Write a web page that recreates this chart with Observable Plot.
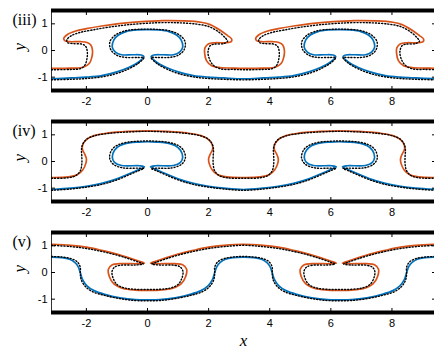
<!DOCTYPE html>
<html><head><meta charset="utf-8">
<script src="https://cdn.jsdelivr.net/npm/d3@7"></script>
<script src="https://cdn.jsdelivr.net/npm/@observablehq/plot@0.6"></script>
<style>
body{margin:0;background:#fff;overflow:hidden;}
#chart svg{display:block;}
</style></head><body><div id="chart"></div>
<script>
const panelLabels = ["(iii)", "(iv)", "(v)"];
const xTicks = [-2, 0, 2, 4, 6, 8];
const yTicks = [-1, 0, 1];
const walls = [-1.5, 1.5];
const xDomain = [-Math.PI, 3 * Math.PI];
const yDomain = [-1.5, 1.5];

const iiiUpper = [[-3.14,-0.67],[-2.5,-0.66],[-2.1,-0.63],[-1.9,-0.48],[-1.82,-0.25],[-1.8,0],[-1.85,0.2],[-1.98,0.3],[-2.2,0.33],[-2.55,0.33],[-2.7,0.36],[-2.74,0.45],[-2.62,0.6],[-2.35,0.73],[-2,0.82],[-1.5,0.92],[-1,1],[-0.3,1.07],[0.5,1.12],[1.2,1.11],[1.75,1.06],[2.05,0.97],[2.38,0.76],[2.62,0.56],[2.75,0.44],[2.74,0.33],[2.55,0.29],[2.2,0.29],[2,0.25],[1.88,0.1],[1.87,-0.1],[1.93,-0.38],[2.1,-0.57],[2.38,-0.64],[2.8,-0.66],[3.14,-0.67],
[3.78,-0.66],[4.18,-0.63],[4.38,-0.48],[4.46,-0.25],[4.48,0],[4.43,0.2],[4.3,0.3],[4.08,0.33],[3.73,0.33],[3.58,0.36],[3.54,0.45],[3.66,0.6],[3.93,0.73],[4.28,0.82],[4.78,0.92],[5.28,1],[5.98,1.07],[6.78,1.12],[7.48,1.11],[8.03,1.06],[8.33,0.97],[8.66,0.76],[8.9,0.56],[9.03,0.44],[9.02,0.33],[8.83,0.29],[8.48,0.29],[8.28,0.25],[8.16,0.1],[8.15,-0.1],[8.21,-0.38],[8.38,-0.57],[8.66,-0.64],[9.08,-0.66],[9.42,-0.67]];
const iiiUpperDotted = [[-3.14,-0.72],[-2.5,-0.71],[-2.2,-0.68],[-2.05,-0.55],[-1.98,-0.3],[-1.97,-0.05],[-2.02,0.15],[-2.15,0.24],[-2.45,0.26],[-2.62,0.3],[-2.64,0.4],[-2.5,0.55],[-2.2,0.68],[-1.8,0.77],[-1.3,0.87],[-0.6,0.97],[0.3,1.04],[1,1.04],[1.6,0.99],[2,0.9],[2.35,0.68],[2.55,0.47],[2.62,0.35],[2.5,0.26],[2.2,0.24],[2.05,0.18],[1.98,-0.05],[2.02,-0.3],[2.15,-0.55],[2.4,-0.69],[2.8,-0.71],[3.14,-0.72],
[3.78,-0.71],[4.08,-0.68],[4.23,-0.55],[4.3,-0.3],[4.31,-0.05],[4.26,0.15],[4.13,0.24],[3.83,0.26],[3.66,0.3],[3.64,0.4],[3.78,0.55],[4.08,0.68],[4.48,0.77],[4.98,0.87],[5.68,0.97],[6.58,1.04],[7.28,1.04],[7.88,0.99],[8.28,0.9],[8.63,0.68],[8.83,0.47],[8.9,0.35],[8.78,0.26],[8.48,0.24],[8.33,0.18],[8.26,-0.05],[8.3,-0.3],[8.43,-0.55],[8.68,-0.69],[9.08,-0.71],[9.42,-0.72]];
const iiiLower = [[-3.14,-1.06],[-2.5,-1.03],[-2,-1],[-1.5,-0.94],[-1,-0.8],[-0.6,-0.63],[-0.3,-0.44],[-0.12,-0.22],[-0.2,-0.17],[-0.5,-0.16],[-0.85,-0.16],[-1.05,-0.06],[-1.15,0.12],[-1.1,0.4],[-0.95,0.58],[-0.7,0.71],[-0.35,0.77],[0,0.78],[0.35,0.77],[0.7,0.71],[0.95,0.58],[1.1,0.4],[1.15,0.12],[1.05,-0.06],[0.85,-0.16],[0.5,-0.16],[0.2,-0.17],[0.12,-0.22],[0.3,-0.44],[0.6,-0.63],[1,-0.8],[1.5,-0.94],[2,-1],[2.5,-1.03],[3.14,-1.06],
[3.78,-1.03],[4.28,-1],[4.78,-0.94],[5.28,-0.8],[5.68,-0.63],[5.98,-0.44],[6.16,-0.22],[6.08,-0.17],[5.78,-0.16],[5.43,-0.16],[5.23,-0.06],[5.13,0.12],[5.18,0.4],[5.33,0.58],[5.58,0.71],[5.93,0.77],[6.28,0.78],[6.63,0.77],[6.98,0.71],[7.23,0.58],[7.38,0.4],[7.43,0.12],[7.33,-0.06],[7.13,-0.16],[6.78,-0.16],[6.48,-0.17],[6.4,-0.22],[6.58,-0.44],[6.88,-0.63],[7.28,-0.8],[7.78,-0.94],[8.28,-1],[8.78,-1.03],[9.42,-1.06]];
const iiiLowerDotted = [[-3.14,-1.1],[-2.5,-1.08],[-2,-1.05],[-1.5,-0.99],[-1,-0.86],[-0.6,-0.68],[-0.3,-0.48],[-0.12,-0.27],[-0.3,-0.26],[-0.7,-0.26],[-1,-0.18],[-1.2,0.03],[-1.23,0.33],[-1.05,0.58],[-0.72,0.74],[-0.35,0.79],[0,0.8],[0.35,0.79],[0.72,0.74],[1.05,0.58],[1.23,0.33],[1.2,0.03],[1,-0.18],[0.7,-0.26],[0.3,-0.26],[0.12,-0.27],[0.3,-0.48],[0.6,-0.68],[1,-0.86],[1.5,-0.99],[2,-1.05],[2.5,-1.08],[3.14,-1.1],
[3.78,-1.08],[4.28,-1.05],[4.78,-0.99],[5.28,-0.86],[5.68,-0.68],[5.98,-0.48],[6.16,-0.27],[5.98,-0.26],[5.58,-0.26],[5.28,-0.18],[5.08,0.03],[5.05,0.33],[5.23,0.58],[5.56,0.74],[5.93,0.79],[6.28,0.8],[6.63,0.79],[7,0.74],[7.33,0.58],[7.51,0.33],[7.48,0.03],[7.28,-0.18],[6.98,-0.26],[6.58,-0.26],[6.4,-0.27],[6.58,-0.48],[6.88,-0.68],[7.28,-0.86],[7.78,-0.99],[8.28,-1.05],[8.78,-1.08],[9.42,-1.1]];

const ivUpper = [[-3.14,-0.6],[-2.6,-0.58],[-2.3,-0.5],[-2.12,-0.32],[-2.02,-0.08],[-2,0.1],[-2.05,0.27],[-2.13,0.45],[-2.12,0.62],[-2,0.82],[-1.75,0.97],[-1.3,1.07],[-0.6,1.13],[0,1.15],[0.6,1.13],[1.3,1.07],[1.75,0.97],[2,0.82],[2.12,0.62],[2.13,0.45],[2.05,0.27],[2,0.1],[2.02,-0.08],[2.12,-0.32],[2.3,-0.5],[2.6,-0.58],[3.14,-0.6],
[3.68,-0.58],[3.98,-0.5],[4.16,-0.32],[4.26,-0.08],[4.28,0.1],[4.23,0.27],[4.15,0.45],[4.16,0.62],[4.28,0.82],[4.53,0.97],[4.98,1.07],[5.68,1.13],[6.28,1.15],[6.88,1.13],[7.58,1.07],[8.03,0.97],[8.28,0.82],[8.4,0.62],[8.41,0.45],[8.33,0.27],[8.28,0.1],[8.3,-0.08],[8.4,-0.32],[8.58,-0.5],[8.88,-0.58],[9.42,-0.6]];
const ivUpperDotted = [[-3.14,-0.63],[-2.6,-0.61],[-2.35,-0.53],[-2.2,-0.35],[-2.15,-0.1],[-2.15,0.2],[-2.16,0.45],[-2.12,0.65],[-2,0.83],[-1.75,0.96],[-1.3,1.05],[-0.6,1.11],[0,1.13],[0.6,1.11],[1.3,1.05],[1.75,0.96],[2,0.83],[2.12,0.65],[2.16,0.45],[2.15,0.2],[2.15,-0.1],[2.2,-0.35],[2.35,-0.53],[2.6,-0.61],[3.14,-0.63],
[3.68,-0.61],[3.93,-0.53],[4.08,-0.35],[4.13,-0.1],[4.13,0.2],[4.12,0.45],[4.16,0.65],[4.28,0.83],[4.53,0.96],[4.98,1.05],[5.68,1.11],[6.28,1.13],[6.88,1.11],[7.58,1.05],[8.03,0.96],[8.28,0.83],[8.4,0.65],[8.44,0.45],[8.43,0.2],[8.43,-0.1],[8.48,-0.35],[8.63,-0.53],[8.88,-0.61],[9.42,-0.63]];
const ivLower = [[-3.14,-1.05],[-2.5,-1],[-2,-0.93],[-1.5,-0.82],[-1,-0.65],[-0.6,-0.46],[-0.3,-0.31],[-0.1,-0.2],[-0.25,-0.16],[-0.85,-0.15],[-1.08,-0.03],[-1.15,0.15],[-1.08,0.42],[-0.9,0.6],[-0.6,0.7],[-0.3,0.73],[0,0.74],[0.3,0.73],[0.6,0.7],[0.9,0.6],[1.08,0.42],[1.15,0.15],[1.08,-0.03],[0.85,-0.15],[0.25,-0.16],[0.1,-0.2],[0.3,-0.31],[0.6,-0.46],[1,-0.65],[1.5,-0.82],[2,-0.93],[2.5,-1],[3.14,-1.05],
[3.78,-1],[4.28,-0.93],[4.78,-0.82],[5.28,-0.65],[5.68,-0.46],[5.98,-0.31],[6.18,-0.2],[6.03,-0.16],[5.43,-0.15],[5.2,-0.03],[5.13,0.15],[5.2,0.42],[5.38,0.6],[5.68,0.7],[5.98,0.73],[6.28,0.74],[6.58,0.73],[6.88,0.7],[7.18,0.6],[7.36,0.42],[7.43,0.15],[7.36,-0.03],[7.13,-0.15],[6.53,-0.16],[6.38,-0.2],[6.58,-0.31],[6.88,-0.46],[7.28,-0.65],[7.78,-0.82],[8.28,-0.93],[8.78,-1],[9.42,-1.05]];
const ivLowerDotted = [[-3.14,-1.08],[-2.5,-1.03],[-2,-0.96],[-1.5,-0.86],[-1,-0.69],[-0.6,-0.5],[-0.3,-0.35],[-0.12,-0.26],[-0.3,-0.25],[-0.8,-0.24],[-1.12,-0.1],[-1.24,0.14],[-1.16,0.45],[-0.95,0.63],[-0.62,0.73],[-0.3,0.76],[0,0.77],[0.3,0.76],[0.62,0.73],[0.95,0.63],[1.16,0.45],[1.24,0.14],[1.12,-0.1],[0.8,-0.24],[0.3,-0.25],[0.12,-0.26],[0.3,-0.35],[0.6,-0.5],[1,-0.69],[1.5,-0.86],[2,-0.96],[2.5,-1.03],[3.14,-1.08],
[3.78,-1.03],[4.28,-0.96],[4.78,-0.86],[5.28,-0.69],[5.68,-0.5],[5.98,-0.35],[6.16,-0.26],[5.98,-0.25],[5.48,-0.24],[5.16,-0.1],[5.04,0.14],[5.12,0.45],[5.33,0.63],[5.66,0.73],[5.98,0.76],[6.28,0.77],[6.58,0.76],[6.9,0.73],[7.23,0.63],[7.44,0.45],[7.52,0.14],[7.4,-0.1],[7.08,-0.24],[6.58,-0.25],[6.4,-0.26],[6.58,-0.35],[6.88,-0.5],[7.28,-0.69],[7.78,-0.86],[8.28,-0.96],[8.78,-1.03],[9.42,-1.08]];

const vUpper = [[-3.14,1.06],[-2.5,1.02],[-2,0.95],[-1.5,0.83],[-1,0.69],[-0.6,0.55],[-0.3,0.43],[-0.1,0.35],[-0.3,0.33],[-0.9,0.33],[-1.15,0.29],[-1.28,0.12],[-1.25,-0.15],[-1.1,-0.43],[-0.8,-0.6],[-0.4,-0.66],[0,-0.67],[0.4,-0.66],[0.8,-0.6],[1.1,-0.43],[1.25,-0.15],[1.28,0.12],[1.15,0.29],[0.9,0.33],[0.3,0.33],[0.1,0.35],[0.3,0.43],[0.6,0.55],[1,0.69],[1.5,0.83],[2,0.95],[2.5,1.02],[3.14,1.06],
[3.78,1.02],[4.28,0.95],[4.78,0.83],[5.28,0.69],[5.68,0.55],[5.98,0.43],[6.18,0.35],[5.98,0.33],[5.38,0.33],[5.13,0.29],[5,0.12],[5.03,-0.15],[5.18,-0.43],[5.48,-0.6],[5.88,-0.66],[6.28,-0.67],[6.68,-0.66],[7.08,-0.6],[7.38,-0.43],[7.53,-0.15],[7.56,0.12],[7.43,0.29],[7.18,0.33],[6.58,0.33],[6.38,0.35],[6.58,0.43],[6.88,0.55],[7.28,0.69],[7.78,0.83],[8.28,0.95],[8.78,1.02],[9.42,1.06]];
const vUpperDotted = [[-3.14,1.02],[-2.5,0.97],[-2,0.9],[-1.5,0.79],[-1,0.65],[-0.6,0.51],[-0.3,0.39],[-0.14,0.32],[-0.4,0.28],[-0.9,0.27],[-1.08,0.2],[-1.16,0.04],[-1.13,-0.2],[-1,-0.45],[-0.75,-0.58],[-0.4,-0.63],[0,-0.64],[0.4,-0.63],[0.75,-0.58],[1,-0.45],[1.13,-0.2],[1.16,0.04],[1.08,0.2],[0.9,0.27],[0.4,0.28],[0.14,0.32],[0.3,0.39],[0.6,0.51],[1,0.65],[1.5,0.79],[2,0.9],[2.5,0.97],[3.14,1.02],
[3.78,0.97],[4.28,0.9],[4.78,0.79],[5.28,0.65],[5.68,0.51],[5.98,0.39],[6.14,0.32],[5.88,0.28],[5.38,0.27],[5.2,0.2],[5.12,0.04],[5.15,-0.2],[5.28,-0.45],[5.53,-0.58],[5.88,-0.63],[6.28,-0.64],[6.68,-0.63],[7.03,-0.58],[7.28,-0.45],[7.41,-0.2],[7.44,0.04],[7.36,0.2],[7.18,0.27],[6.68,0.28],[6.42,0.32],[6.58,0.39],[6.88,0.51],[7.28,0.65],[7.78,0.79],[8.28,0.9],[8.78,0.97],[9.42,1.02]];
const vLower = [[-3.14,0.58],[-2.8,0.56],[-2.55,0.5],[-2.38,0.38],[-2.27,0.22],[-2.2,0],[-2.12,-0.28],[-1.98,-0.5],[-1.75,-0.68],[-1.4,-0.82],[-0.9,-0.95],[-0.4,-1.02],[0,-1.03],[0.4,-1.02],[0.9,-0.95],[1.4,-0.82],[1.75,-0.68],[1.98,-0.5],[2.12,-0.28],[2.2,0],[2.27,0.22],[2.38,0.38],[2.55,0.5],[2.8,0.56],[3.14,0.58],
[3.48,0.56],[3.73,0.5],[3.9,0.38],[4.01,0.22],[4.08,0],[4.16,-0.28],[4.3,-0.5],[4.53,-0.68],[4.88,-0.82],[5.38,-0.95],[5.88,-1.02],[6.28,-1.03],[6.68,-1.02],[7.18,-0.95],[7.68,-0.82],[8.03,-0.68],[8.26,-0.5],[8.4,-0.28],[8.48,0],[8.55,0.22],[8.66,0.38],[8.83,0.5],[9.08,0.56],[9.42,0.58]];
const vLowerDotted = [[-3.14,0.6],[-2.8,0.58],[-2.5,0.52],[-2.3,0.4],[-2.2,0.2],[-2.2,-0.05],[-2.16,-0.3],[-2.03,-0.53],[-1.8,-0.72],[-1.4,-0.86],[-0.9,-0.98],[-0.4,-1.05],[0,-1.06],[0.4,-1.05],[0.9,-0.98],[1.4,-0.86],[1.8,-0.72],[2.03,-0.53],[2.16,-0.3],[2.2,-0.05],[2.2,0.2],[2.3,0.4],[2.5,0.52],[2.8,0.58],[3.14,0.6],
[3.48,0.58],[3.78,0.52],[3.98,0.4],[4.08,0.2],[4.08,-0.05],[4.12,-0.3],[4.25,-0.53],[4.48,-0.72],[4.88,-0.86],[5.38,-0.98],[5.88,-1.05],[6.28,-1.06],[6.68,-1.05],[7.18,-0.98],[7.68,-0.86],[8.08,-0.72],[8.31,-0.53],[8.44,-0.3],[8.48,-0.05],[8.48,0.2],[8.58,0.4],[8.78,0.52],[9.08,0.58],[9.42,0.6]];

const panels = [
  {label: panelLabels[0], upper: iiiUpper, upperDot: iiiUpperDotted, lower: iiiLower, lowerDot: iiiLowerDotted},
  {label: panelLabels[1], upper: ivUpper, upperDot: ivUpperDotted, lower: ivLower, lowerDot: ivLowerDotted},
  {label: panelLabels[2], upper: vUpper, upperDot: vUpperDotted, lower: vLower, lowerDot: vLowerDotted}
];

const ORANGE = "#D95319", BLUE = "#0072BD";
const serif = "'Liberation Serif', 'DejaVu Serif', serif";
const px = d => d[0], py = d => d[1];

panels.forEach((p, i) => {
  const last = i === panels.length - 1;
  const solid = {x: px, y: py, strokeWidth: 1.7, curve: "catmull-rom", clip: true};
  const dotted = {x: px, y: py, stroke: "black", strokeWidth: 1.4, strokeDasharray: "1.1,2", curve: "catmull-rom", clip: true};
  const fig = Plot.plot({
    width: 434,
    height: last ? 131 : 111,
    marginLeft: 51,
    marginRight: -1,
    marginTop: 10,
    marginBottom: last ? 41 : 21,
    x: {domain: xDomain},
    y: {domain: yDomain},
    style: {fontFamily: "'Liberation Sans', Arial, sans-serif", fontSize: "11px", background: "white", color: "black"},
    marks: [
      Plot.line(p.upper, {...solid, stroke: ORANGE}),
      Plot.line(p.lower, {...solid, stroke: BLUE}),
      Plot.line(p.upperDot, dotted),
      Plot.line(p.lowerDot, dotted),
      Plot.frame({stroke: "black", strokeWidth: 0.8}),
      Plot.ruleY(walls, {stroke: "black", strokeWidth: 4}),
      Plot.axisX(xTicks, {anchor: "bottom", tickSize: 0, tickPadding: 7, tickFormat: d => String(d), label: null}),
      Plot.axisX(xTicks, {anchor: "bottom", tickSize: 4, dy: -4, fill: "none", label: null}),
      Plot.axisX(xTicks, {anchor: "top", tickSize: 4, dy: 4, fill: "none", label: null}),
      Plot.axisY(yTicks, {anchor: "left", tickSize: 0, tickPadding: 4, tickFormat: d => String(d), label: null}),
      Plot.axisY(yTicks, {anchor: "left", tickSize: 4, dx: 4, fill: "none", label: null}),
      Plot.axisY(yTicks, {anchor: "right", tickSize: 4, dx: -4, fill: "none", label: null}),
      Plot.text([p.label], {text: d => d, frameAnchor: "top-left", dx: -39, dy: 3, textAnchor: "start", fontFamily: serif, fontSize: 16}),
      Plot.text(["y"], {text: d => d, frameAnchor: "left", dx: -32, rotate: -90, fontFamily: serif, fontStyle: "italic", fontSize: 17}),
      last ? Plot.text(["x"], {text: d => d, frameAnchor: "bottom", dy: 33, fontFamily: serif, fontStyle: "italic", fontSize: 17}) : null
    ]
  });
  document.getElementById("chart").appendChild(fig);
});
</script>
</body></html>
